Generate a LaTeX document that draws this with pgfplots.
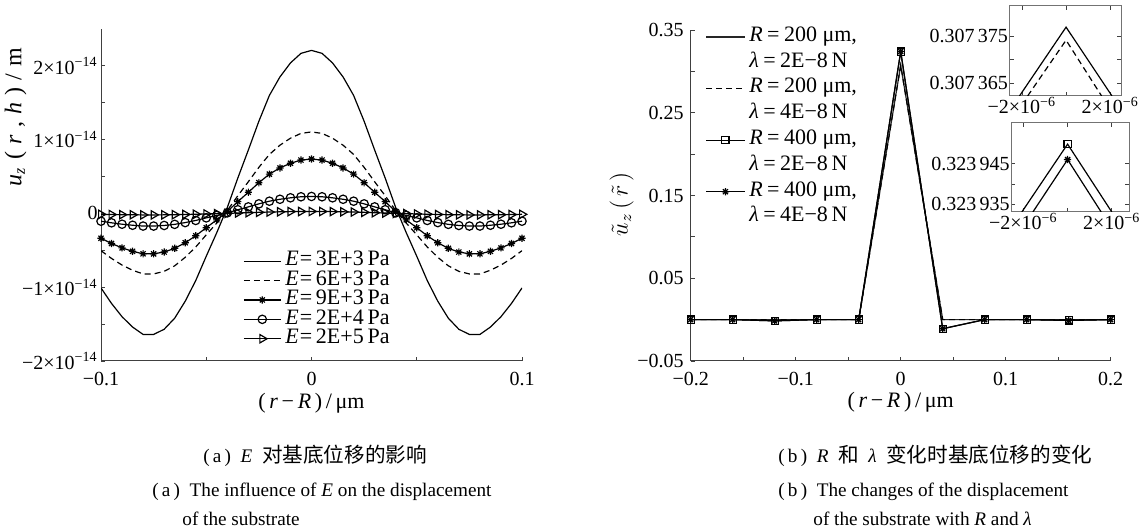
\documentclass[border=0pt]{standalone}
\usepackage{fontspec}
\setmainfont{Liberation Serif}
\newfontfamily\cjk{Noto Sans CJK SC}
\usepackage{pgfplots}
\usepackage{pgfplotstable}
\pgfplotsset{compat=1.18}

% eight-armed asterisk, as MATLAB draws '*'
\pgfdeclareplotmark{ast8}{%
  \pgfpathmoveto{\pgfqpoint{-\pgfplotmarksize}{0pt}}\pgfpathlineto{\pgfqpoint{\pgfplotmarksize}{0pt}}%
  \pgfpathmoveto{\pgfqpoint{0pt}{-\pgfplotmarksize}}\pgfpathlineto{\pgfqpoint{0pt}{\pgfplotmarksize}}%
  \pgfpathmoveto{\pgfqpoint{-0.707\pgfplotmarksize}{-0.707\pgfplotmarksize}}\pgfpathlineto{\pgfqpoint{0.707\pgfplotmarksize}{0.707\pgfplotmarksize}}%
  \pgfpathmoveto{\pgfqpoint{-0.707\pgfplotmarksize}{0.707\pgfplotmarksize}}\pgfpathlineto{\pgfqpoint{0.707\pgfplotmarksize}{-0.707\pgfplotmarksize}}%
  \pgfusepathqstroke}

% (a) u_z(r,h) in units of 1e-14 m
\pgfplotstableread{
x      e3     e6      e9      e20     e200
-0.100 -1.01  -0.505  -0.337  -0.105  -0.012
-0.095 -1.22  -0.610  -0.407  -0.127  -0.015
-0.090 -1.40  -0.700  -0.467  -0.146  -0.017
-0.085 -1.54  -0.770  -0.513  -0.160  -0.018
-0.080 -1.64  -0.820  -0.547  -0.171  -0.020
-0.075 -1.64  -0.820  -0.547  -0.171  -0.020
-0.070 -1.57  -0.785  -0.523  -0.163  -0.019
-0.065 -1.42  -0.710  -0.473  -0.148  -0.017
-0.060 -1.19  -0.595  -0.397  -0.124  -0.014
-0.055 -0.91  -0.455  -0.303  -0.095  -0.011
-0.050 -0.58  -0.290  -0.193  -0.060  -0.007
-0.045 -0.26  -0.130  -0.087  -0.027  -0.003
-0.040  0.08   0.040   0.027   0.008   0.001
-0.035  0.48   0.240   0.160   0.050   0.006
-0.030  0.86   0.430   0.287   0.089   0.010
-0.025  1.25   0.625   0.417   0.130   0.015
-0.020  1.60   0.800   0.533   0.166   0.019
-0.015  1.85   0.925   0.617   0.192   0.022
-0.010  2.04   1.020   0.680   0.212   0.025
-0.005  2.17   1.085   0.723   0.226   0.026
 0.000  2.21   1.105   0.737   0.230   0.027
 0.005  2.17   1.085   0.723   0.226   0.026
 0.010  2.04   1.020   0.680   0.212   0.025
 0.015  1.85   0.925   0.617   0.192   0.022
 0.020  1.60   0.800   0.533   0.166   0.019
 0.025  1.25   0.625   0.417   0.130   0.015
 0.030  0.86   0.430   0.287   0.089   0.010
 0.035  0.48   0.240   0.160   0.050   0.006
 0.040  0.08   0.040   0.027   0.008   0.001
 0.045 -0.26  -0.130  -0.087  -0.027  -0.003
 0.050 -0.58  -0.290  -0.193  -0.060  -0.007
 0.055 -0.91  -0.455  -0.303  -0.095  -0.011
 0.060 -1.19  -0.595  -0.397  -0.124  -0.014
 0.065 -1.42  -0.710  -0.473  -0.148  -0.017
 0.070 -1.57  -0.785  -0.523  -0.163  -0.019
 0.075 -1.64  -0.820  -0.547  -0.171  -0.020
 0.080 -1.64  -0.820  -0.547  -0.171  -0.020
 0.085 -1.54  -0.770  -0.513  -0.160  -0.018
 0.090 -1.40  -0.700  -0.467  -0.146  -0.017
 0.095 -1.22  -0.610  -0.407  -0.127  -0.015
 0.100 -1.01  -0.505  -0.337  -0.105  -0.012
}\tableE

% (b) four cases: a=R200/2E-8, b=R200/4E-8, c=R400/2E-8, d=R400/4E-8
\pgfplotstableread{
x      a         b         c         d
-0.20  0         0         0         0
-0.16  0         0         0         0
-0.12  0         0        -0.0015   -0.0015
-0.08  0         0         0         0
-0.04  0         0         0         0
 0.00  0.307377  0.3073742 0.3239498 0.323946
 0.04  0         0        -0.011    -0.011
 0.08  0         0         0         0
 0.12  0         0         0         0
 0.16  0         0        -0.001    -0.001
 0.20  0         0         0         0
}\tableR

% insets: x in 1e-6, y in 1e-6 above 0.30737 (top) / 0.32394 (bottom)
\pgfplotstableread{
x      y
-2.11 -7.8
 0.00  7.0
 2.08 -7.8
}\insetA
\pgfplotstableread{
x      y
-1.74 -7.8
 0.00  4.2
 1.61 -7.8
}\insetB
\pgfplotstableread{
x      y
-2.07 -6.9
 0.00  9.8
 2.00 -6.9
}\insetC
\pgfplotstableread{
x      y
-1.57 -6.9
 0.00  6.0
 1.52 -6.9
}\insetD

\pgfplotsset{
  base/.style={
    scale only axis, anchor=south west,
    tick align=inside, major tick length=2.2pt, minor tick length=2.2pt,
    every tick/.style={black!75, line width=0.4pt},
    axis line style={black!75, line width=0.5pt},
    tick label style={font=\fontsize{10}{12}\selectfont},
    label style={font=\fontsize{11}{13}\selectfont},
    legend cell align=left,
    every axis plot/.append style={black, line width=0.6pt},
  },
  half/.style={
    base,
    axis x line*=bottom, axis y line*=left,
    xticklabel style={yshift=-2pt},
    xlabel={(\,\textit{r}\,−\,\textit{R}\,)\,/\,μm},
    xlabel style={at={(axis description cs:0.5,-0.142)}, anchor=base},
  },
  inset/.style={
    base,
    xtick={-2,2}, minor xtick={0},
    xticklabels={−2×10\textsuperscript{−6}, 2×10\textsuperscript{−6}},
    xticklabel style={inner sep=0.5pt},
    yticklabel style={inner sep=0.5pt},
    axis line style={black!55, line width=0.5pt},
  },
}

\begin{document}
\begin{tikzpicture}
\path[use as bounding box] (0,0) rectangle (572.5pt,264.5pt);

% ---------- (a) ----------
\begin{axis}[half,
  at={(50.5pt,84pt)}, width=210.5pt, height=166pt,
  xmin=-0.1, xmax=0.1, ymin=-2, ymax=2.5,
  xtick={-0.1,0,0.1}, xticklabels={−0.1,0,0.1}, minor xtick={-0.05,0.05},
  ytick={-2,-1,0,1,2}, minor ytick={-1.5,-0.5,0.5,1.5},
  yticklabels={−2×10\textsuperscript{−14}, −1×10\textsuperscript{−14}, 0,
               1×10\textsuperscript{−14}, 2×10\textsuperscript{−14}},
  yticklabel style={inner sep=1.5pt},
  ylabel={\textit{u}\textsubscript{\textit{z}}\hspace{0.3em}(\hspace{0.3em}\textit{r}\hspace{0.3em},\hspace{0.3em}\textit{h}\hspace{0.3em})\hspace{0.3em}/\hspace{0.3em}m},
  ylabel style={at={(axis description cs:-0.203,0.735)}, anchor=center,
    font=\fontsize{12}{14}\selectfont},
  legend style={at={(axis description cs:0.338,0.330)}, anchor=north west,
    draw=none, fill=none, inner sep=0pt, outer sep=0pt, column sep=2pt,
    font=\fontsize{11}{12}\selectfont,
    nodes={inner sep=0pt, text height=7.2pt, text depth=2.5pt}},
  legend image code/.code={\draw[mark repeat=2,mark phase=2,#1]
    plot coordinates {(0pt,0pt) (9.2pt,0pt) (18.4pt,0pt)};},
]
\addplot[mark=none] table[x=x,y=e3] {\tableE};
\addlegendentry{\textit{E}\kern0.6pt=\,3E+3\,Pa}
\addplot[mark=none, dash pattern=on 3pt off 2pt] table[x=x,y=e6] {\tableE};
\addlegendentry{\textit{E}\kern0.6pt=\,6E+3\,Pa}
\addplot[mark=ast8, mark size=1.8pt] table[x=x,y=e9] {\tableE};
\addlegendentry{\textit{E}\kern0.6pt=\,9E+3\,Pa}
\addplot[mark=o, mark size=2.1pt] table[x=x,y=e20] {\tableE};
\addlegendentry{\textit{E}\kern0.6pt=\,2E+4\,Pa}
\addplot[mark=triangle, mark size=2.4pt, mark options={rotate=-90}] table[x=x,y=e200] {\tableE};
\addlegendentry{\textit{E}\kern0.6pt=\,2E+5\,Pa}
\end{axis}

% ---------- (b) ----------
\begin{axis}[half,
  at={(345.35pt,84pt)}, width=210pt, height=165.5pt,
  xmin=-0.2, xmax=0.2, ymin=-0.05, ymax=0.35,
  xtick={-0.2,-0.1,0,0.1,0.2}, xticklabels={−0.2,−0.1,0,0.1,0.2},
  minor xtick={-0.15,-0.05,0.05,0.15},
  ytick={-0.05,0.05,0.15,0.25,0.35}, yticklabels={−0.05,0.05,0.15,0.25,0.35},
  minor ytick={0,0.1,0.2,0.3},
  ylabel={$\tilde{u}_z\,(\,\tilde{r}\,)$},
  ylabel style={at={(axis description cs:-0.1645,0.474)}, anchor=center,
    font=\fontsize{12}{14}\selectfont},
  legend style={at={(axis description cs:0.035,1.018)}, anchor=north west,
    draw=none, fill=none, inner sep=0pt, outer sep=0pt, column sep=2pt,
    font=\fontsize{11}{12}\selectfont,
    nodes={inner sep=0pt, text height=8.6pt, text depth=4.3pt}},
  legend image code/.code={\draw[mark repeat=2,mark phase=2,#1]
    plot coordinates {(0pt,0pt) (9.7pt,0pt) (19.4pt,0pt)};},
]
\addplot[mark=none, black!85] table[x=x,y=a] {\tableR};
\addlegendentry{\textit{R}\hspace{0.2em}=\hspace{0.2em}200 μm,}
\addlegendimage{empty legend}
\addlegendentry{\textit{λ}\hspace{0.2em}=\hspace{0.2em}2E−8\,N}
\addplot[mark=none, dash pattern=on 3pt off 2pt] table[x=x,y=b] {\tableR};
\addlegendentry{\textit{R}\hspace{0.2em}=\hspace{0.2em}200 μm,}
\addlegendimage{empty legend}
\addlegendentry{\textit{λ}\hspace{0.2em}=\hspace{0.2em}4E−8\,N}
\addplot[mark=square, mark size=1.8pt] table[x=x,y=c] {\tableR};
\addlegendentry{\textit{R}\hspace{0.2em}=\hspace{0.2em}400 μm,}
\addlegendimage{empty legend}
\addlegendentry{\textit{λ}\hspace{0.2em}=\hspace{0.2em}2E−8\,N}
\addplot[mark=ast8, mark size=1.8pt] table[x=x,y=d] {\tableR};
\addlegendentry{\textit{R}\hspace{0.2em}=\hspace{0.2em}400 μm,}
\addlegendimage{empty legend}
\addlegendentry{\textit{λ}\hspace{0.2em}=\hspace{0.2em}4E−8\,N}
\end{axis}

% ---------- insets ----------
\begin{axis}[inset,
  at={(504.65pt,216.5pt)}, width=56.2pt, height=45pt,
  xmin=-2.57, xmax=2.52, ymin=-7.8, ymax=11.55,
  ytick={-5,5}, minor ytick={0},
  yticklabels={0.307\,365, 0.307\,375},
]
\addplot[mark=none] table {\insetA};
\addplot[mark=none, dash pattern=on 3pt off 2pt] table {\insetB};
\end{axis}

\begin{axis}[inset,
  at={(505.5pt,158.5pt)}, width=59pt, height=44.5pt,
  xmin=-2.56, xmax=2.78, ymin=-6.9, ymax=15.0,
  ytick={-5,5}, minor ytick={0},
  yticklabels={0.323\,935, 0.323\,945},
]
\addplot[mark=square, mark size=1.8pt, mark indices={2}] table {\insetC};
\addplot[mark=ast8, mark size=1.8pt, mark indices={2}] table {\insetD};
\end{axis}

% ---------- captions ----------
\begin{scope}[every node/.style={inner sep=0pt, anchor=base west,
    font=\fontsize{9.6}{11}\selectfont}]
\node at (101.5pt,33pt) {(\,a\,)\enspace\textit{E}\enspace{\cjk\fontsize{10.3}{11}\selectfont 对基底位移的影响}};
\node at (76pt,16pt) {(\,a\,)\enspace The influence of \textit{E} on the displacement};
\node at (91pt,1.5pt) {of the substrate};
\node at (389pt,33pt) {(\,b\,)\enspace\textit{R}\enspace{\cjk\fontsize{10.3}{11}\selectfont 和}\enspace\textit{λ}\enspace{\cjk\fontsize{10.3}{11}\selectfont 变化时基底位移的变化}};
\node at (389pt,16pt) {(\,b\,)\enspace The changes of the displacement};
\node at (406.5pt,1.5pt) {of the substrate with \textit{R} and \textit{λ}};
\end{scope}
\end{tikzpicture}
\end{document}
